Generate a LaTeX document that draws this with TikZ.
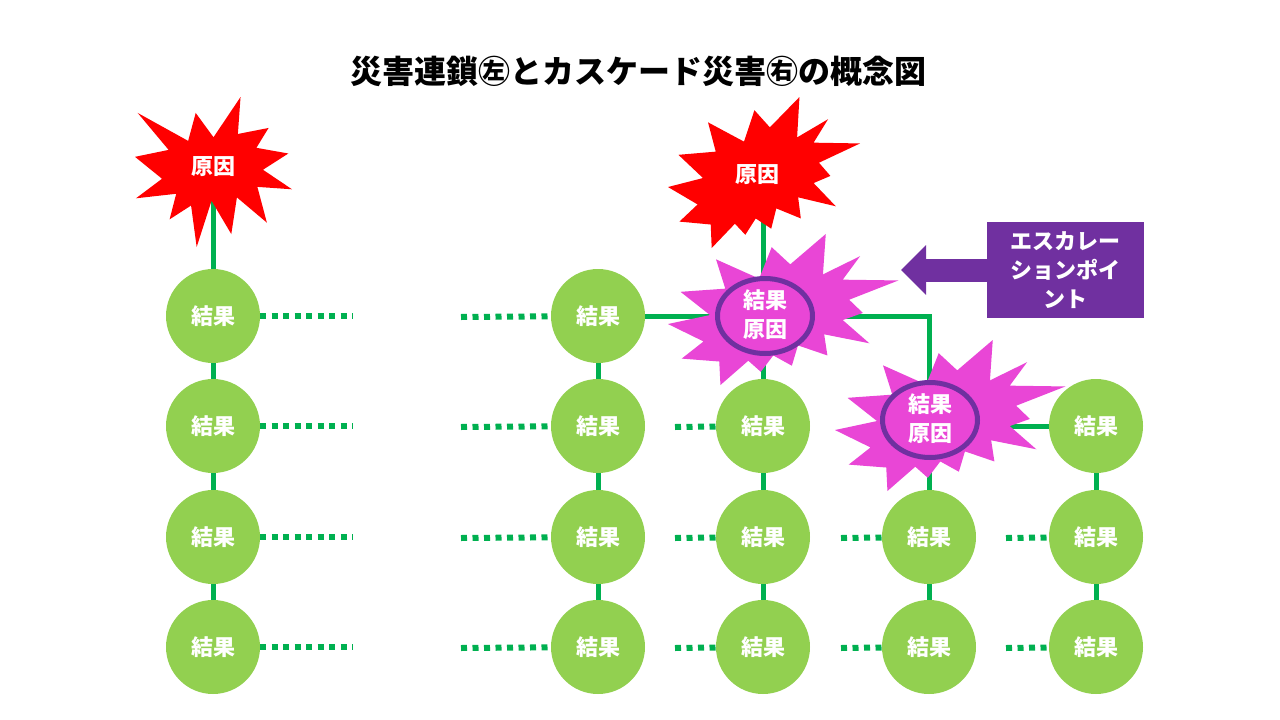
\documentclass[tikz,border=0pt]{standalone}
\usepackage{fontspec}
\setmainfont{Noto Sans CJK JP}
\usetikzlibrary{arrows.meta,shapes.geometric}
\definecolor{lgreen}{HTML}{92D050}
\definecolor{dgreen}{HTML}{00B050}
\definecolor{mag}{RGB}{233,70,214}
\definecolor{purp}{HTML}{7030A0}
\pgfdeclarelayer{lines}
\pgfdeclarelayer{stars}
\pgfsetlayers{lines,stars,main}
% explosion 1 (centred, y downwards)
\newcommand\mysealone{(0,-.2315) -- (.1723,-.5) -- (.1553,-.2535) -- (.3509,-.2937) -- (.2732,-.1613) -- (.4767,-.1233) -- (.3151,-.0150) -- (.5,.1153) -- (.2795,.0992) -- (.3400,.3377) -- (.1491,.1693) -- (.1133,.4138) -- (-.0124,.1914) -- (-.1072,.5) -- (-.1428,.2235) -- (-.2795,.3156) -- (-.2376,.1452) -- (-.4938,.1753) -- (-.3277,.0451) -- (-.5,-.1012) -- (-.2858,-.1474) -- (-.4829,-.3937) -- (-.1615,-.2074) -- (-.1133,-.3937) -- cycle}
% explosion 2 (unit box from top-left, y downwards)
\newcommand\mysealtwo{(.5306,.2010) -- (.6847,0) -- (.6725,.2675) -- (.8337,.1469) -- (.7583,.3024) -- (1,.3076) -- (.7863,.4353) -- (.8458,.5227) -- (.7583,.5699) -- (.8739,.7237) -- (.6778,.6644) -- (.6918,.8042) -- (.5639,.7377) -- (.5376,.8723) -- (.4570,.8042) -- (.4028,.9126) -- (.3485,.8391) -- (.2276,1) -- (.2225,.8444) -- (.0595,.8252) -- (.1542,.7116) -- (0,.5962) -- (.1822,.5367) -- (.0543,.3829) -- (.2487,.3619) -- (.2084,.1678) -- (.3958,.2955) -- (.4501,.0874) -- cycle}
\begin{document}
\begin{tikzpicture}[x=1pt,y=-1pt,
  res/.style={circle,fill=lgreen,minimum size=94pt,inner sep=0pt,text=white,font=\bfseries\fontsize{22}{26}\selectfont},
  link/.style={draw=dgreen,line width=5pt},
  dotline/.style={draw=dgreen,line width=6pt,dash pattern=on 6pt off 5.5pt},
  lbl/.style={text=white,font=\bfseries\fontsize{22}{29}\selectfont,align=center,inner sep=0pt},
  ring/.style={ellipse,draw=purp,line width=5pt,minimum width=95pt,minimum height=75pt,inner sep=0pt}]
\useasboundingbox (0,0) rectangle (1280,720);

% title
\node[font=\bfseries\fontsize{32}{38}\selectfont] (title) at (638,71) {災害連鎖㊧とカスケード災害㊨の概念図};

% result circles
\foreach \r/\y in {1/316,2/426,3/537,4/647} {
  \node[res] (c1\r) at (213,\y) {結果};
  \node[res] (c2\r) at (598,\y) {結果};
}
\foreach \r/\y in {2/426,3/537,4/647} {
  \node[res] (c3\r) at (763,\y) {結果};
  \node[res] (c5\r) at (1096,\y) {結果};
}
\foreach \r/\y in {3/537,4/647} {
  \node[res] (c4\r) at (929,\y) {結果};
}

% cause labels
\node[lbl] (cause1) at (213,167) {原因};
\node[lbl] (cause2) at (757,175) {原因};
\node[ring] (ring1) at (765,316) {};
\node[lbl] (mag1) at (765,315) {結果\\原因};
\node[ring] (ring2) at (930,420) {};
\node[lbl] (mag2) at (930,419) {結果\\原因};

% callout
\node[fill=purp,minimum width=157pt,minimum height=96pt,lbl] (callout) at (1065.5,270) {エスカレー\\ションポイ\\ント};
\coordinate (tip) at (901,270);
\draw[purp,line width=23pt,-{Triangle[length=25pt,width=48pt]}] (callout.west) -- (tip);

% connectors
\begin{pgfonlayer}{lines}
  \fill[white] (0,0) rectangle (1280,720);
  \draw[link] (cause1.center) -- (c14.center);
  \draw[link] (c21.center) -- (c24.center);
  \coordinate (top3) at (763,200);
  \draw[link] (top3) -- (c34.center);
  \coordinate (corner) at (929,316);
  \draw[link] (c21.center) -- (corner) -- (c44.center);
  \draw[link] (corner |- c52) -- (c52.center);
  \draw[link] (c52.center) -- (c54.center);
  % dotted continuations
  \foreach \r/\y in {1/316,2/426,3/537,4/647} {
    \coordinate (d\r) at (353,\y);
    \draw[dotline] (c1\r) -- (d\r);
    \coordinate (e\r) at (461,\y+1);
    \draw[dotline] (e\r) -- (c2\r.center);
  }
  \foreach \r/\y in {2/426,3/537,4/647} {
    \coordinate (f\r) at (675,\y+1);
    \draw[dotline] (f\r) -- (c3\r.center);
  }
  \foreach \r/\y in {3/537,4/647} {
    \coordinate (g\r) at (841,\y+1);
    \draw[dotline] (g\r) -- (c4\r.center);
    \coordinate (h\r) at (1006,\y+1);
    \draw[dotline] (h\r) -- (c5\r.center);
  }
\end{pgfonlayer}

% explosion shapes
\begin{pgfonlayer}{stars}
  \begin{scope}[shift={(213.5,172)},xscale=157,yscale=150]
    \fill[red] \mysealone;
  \end{scope}
  \begin{scope}[shift={(668,97)},xscale=192,yscale=151]
    \fill[red] \mysealtwo;
  \end{scope}
  \begin{scope}[shift={(668,234)},xscale=230.4,yscale=151]
    \fill[mag] \mysealtwo;
  \end{scope}
  \begin{scope}[shift={(835,340)},xscale=230.4,yscale=151]
    \fill[mag] \mysealtwo;
  \end{scope}
\end{pgfonlayer}
\end{tikzpicture}
\end{document}
